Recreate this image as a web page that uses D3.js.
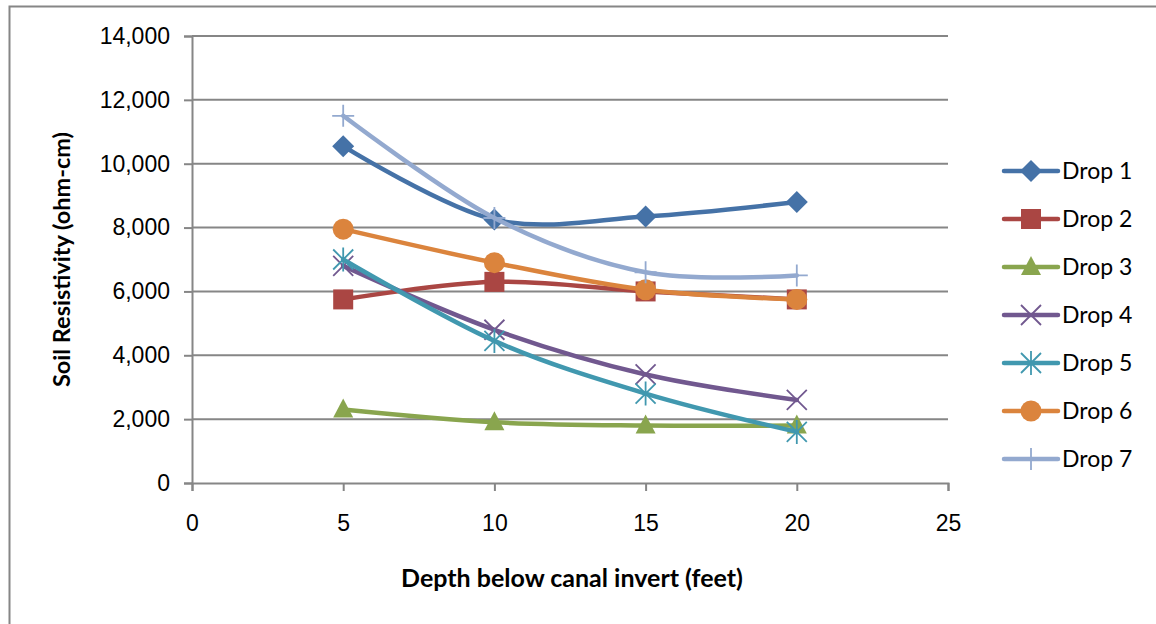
<!DOCTYPE html>
<html>
<head>
<meta charset="utf-8">
<script src="https://cdn.jsdelivr.net/npm/d3@7"></script>
<style>
  body { margin: 0; background: #fff; }
  svg { display: block; font-family: Lato, 'Open Sans', sans-serif; }
</style>
</head>
<body>
<div id="chart"></div>
<script>
const depths = [5, 10, 15, 20]
const seriesNames = ['Drop 1', 'Drop 2', 'Drop 3', 'Drop 4', 'Drop 5', 'Drop 6', 'Drop 7']
const drop1 = [10550, 8250, 8350, 8800]
const drop2 = [5750, 6300, 6000, 5750]
const drop3 = [2300, 1900, 1800, 1800]
const drop4 = [6800, 4800, 3400, 2600]
const drop5 = [7000, 4450, 2800, 1600]
const drop6 = [7950, 6900, 6050, 5750]
const drop7 = [11500, 8300, 6600, 6500]
const colors = ['#4572A7', '#AA4643', '#89A54E', '#71588F', '#4198AF', '#DB843D', '#93A9CF']
const markers = ['diamond', 'square', 'triangle', 'x', 'star', 'circle', 'plus']
const xTicks = [0, 5, 10, 15, 20, 25]
const yTicks = [0, 2000, 4000, 6000, 8000, 10000, 12000, 14000]

const allValues = [drop1, drop2, drop3, drop4, drop5, drop6, drop7]
const series = seriesNames.map((name, i) => ({
  name, color: colors[i], marker: markers[i],
  points: depths.map((d, j) => ({ x: d, y: allValues[i][j] }))
}))

const width = 1156, height = 624
const margin = { top: 36, right: 208, bottom: 141, left: 192 }

const svg = d3.select('#chart').append('svg')
  .attr('width', width)
  .attr('height', height)

// outer chart border (right and bottom edges fall outside the frame)
svg.append('rect')
  .attr('x', 9.5).attr('y', 6.5)
  .attr('width', width + 20).attr('height', height + 20)
  .attr('fill', 'none').attr('stroke', '#868686').attr('stroke-width', 2)

const x = d3.scaleLinear().domain([0, 25]).range([margin.left, width - margin.right])
const y = d3.scaleLinear().domain([0, 14000]).range([height - margin.bottom, margin.top])

// gridlines
svg.append('g')
  .selectAll('line')
  .data(yTicks.filter(d => d > 0))
  .join('line')
  .attr('x1', x(0)).attr('x2', x(25))
  .attr('y1', d => y(d)).attr('y2', d => y(d))
  .attr('stroke', '#868686').attr('stroke-width', 2)

const yAxis = g => g
  .attr('transform', `translate(${x(0)},0)`)
  .call(d3.axisLeft(y).tickValues(yTicks).tickSize(8).tickPadding(14).tickFormat(d3.format(',')))
  .call(g => g.selectAll('line, path').attr('stroke', '#868686').attr('stroke-width', 2))
  .call(g => g.selectAll('text').attr('font-size', 23).attr('fill', '#000'))

const xAxis = g => g
  .attr('transform', `translate(0,${y(0)})`)
  .call(d3.axisBottom(x).tickValues(xTicks).tickSize(8).tickPadding(24).tickSizeOuter(8))
  .call(g => g.selectAll('line, path').attr('stroke', '#868686').attr('stroke-width', 2))
  .call(g => g.selectAll('text').attr('font-size', 23).attr('fill', '#000'))

svg.append('g').call(yAxis)
svg.append('g').call(xAxis)

svg.append('text')
  .attr('transform', `translate(70,${(y(0) + y(14000)) / 2}) rotate(-90)`)
  .attr('text-anchor', 'middle')
  .attr('font-size', 23.5).attr('font-weight', 'bold')
  .text('Soil Resistivity (ohm-cm)')

svg.append('text')
  .attr('x', 572).attr('y', 587)
  .attr('text-anchor', 'middle')
  .attr('font-size', 25).attr('font-weight', 'bold')
  .text('Depth below canal invert (feet)')

const line = d3.line()
  .x(d => x(d.x)).y(d => y(d.y))
  .curve(d3.curveCatmullRom.alpha(0))

function drawMarker (g, type, color) {
  if (type === 'diamond') {
    g.append('path').attr('d', 'M0,-11L11,0L0,11L-11,0Z').attr('fill', color)
  } else if (type === 'square') {
    g.append('rect').attr('x', -10).attr('y', -10).attr('width', 20).attr('height', 20).attr('fill', color)
  } else if (type === 'triangle') {
    g.append('path').attr('d', 'M0,-11L10,8L-10,8Z').attr('fill', color)
  } else if (type === 'circle') {
    g.append('circle').attr('r', 10.5).attr('fill', color)
  } else if (type === 'x') {
    g.append('path').attr('d', 'M-10,-10L10,10M-10,10L10,-10').attr('stroke', color).attr('stroke-width', 1.8)
  } else if (type === 'star') {
    g.append('path').attr('d', 'M-10,-10L10,10M-10,10L10,-10M0,-12L0,12').attr('stroke', color).attr('stroke-width', 1.8)
  } else if (type === 'plus') {
    g.append('path').attr('d', 'M-11,0L11,0M0,-11L0,11').attr('stroke', color).attr('stroke-width', 1.8)
  }
}

const sg = svg.append('g')
  .selectAll('g')
  .data(series)
  .join('g')

sg.append('path')
  .attr('d', d => line(d.points))
  .attr('fill', 'none')
  .attr('stroke', d => d.color)
  .attr('stroke-width', 4.5)
  .attr('stroke-linecap', 'round')

sg.each(function (s) {
  d3.select(this).selectAll('g.m')
    .data(s.points)
    .join('g')
    .attr('class', 'm')
    .attr('transform', d => `translate(${x(d.x)},${y(d.y)})`)
    .each(function () { drawMarker(d3.select(this), s.marker, s.color) })
})

// legend
const legend = svg.append('g')
  .selectAll('g')
  .data(series)
  .join('g')
  .attr('transform', (d, i) => `translate(1004,${171 + i * 48})`)

legend.append('line')
  .attr('x1', 0).attr('x2', 54)
  .attr('stroke', d => d.color).attr('stroke-width', 4.5).attr('stroke-linecap', 'round')

legend.each(function (s) {
  const m = d3.select(this).append('g').attr('transform', 'translate(27,0)')
  drawMarker(m, s.marker, s.color)
})

legend.append('text')
  .attr('x', 58).attr('y', 8)
  .attr('font-size', 23)
  .text(d => d.name)
</script>
</body>
</html>
